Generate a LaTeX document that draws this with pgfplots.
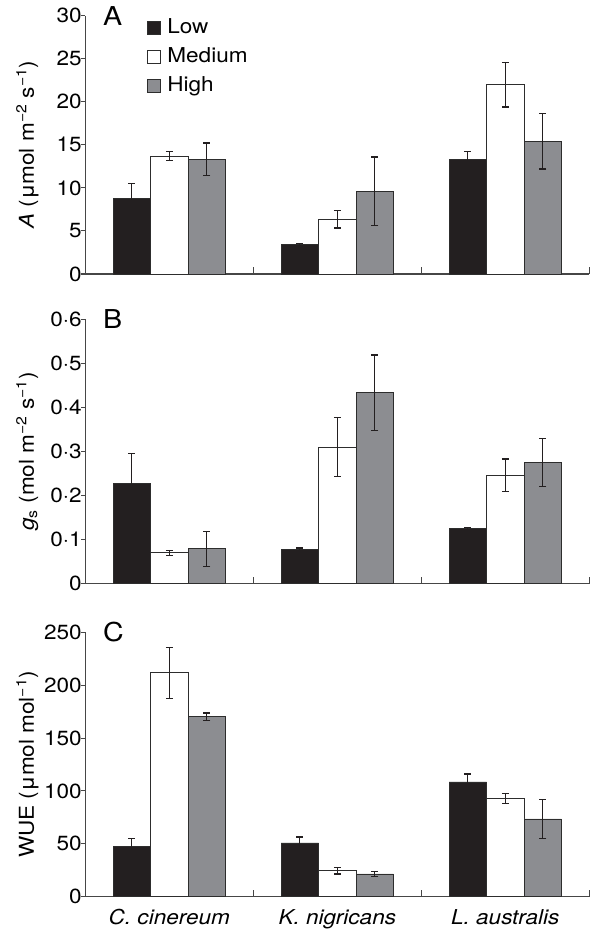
\documentclass[border=0pt]{standalone}
\usepackage{fontspec}
\setmainfont{TeX Gyre Heros}[FakeStretch=1.1]
\usepackage{pgfplots}
\pgfplotsset{compat=1.18}
\definecolor{barblack}{RGB}{35,31,32}
\definecolor{bargray}{RGB}{140,141,145}
\definecolor{edgecol}{RGB}{45,45,45}
\definecolor{axiscol}{RGB}{70,70,70}
\definecolor{errcol}{RGB}{35,31,32}
\newcommand{\bigf}{\fontsize{20.5}{24}\selectfont}
\newcommand{\legf}{\fontsize{20.5}{24}\selectfont}
\newcommand{\letf}{\fontsize{26}{30}\selectfont}
\pgfplotsset{
  panel/.style={
    scale only axis, width=504pt,
    xmin=-0.5, xmax=2.5, ymin=0,
    axis x line*=bottom, axis y line*=left,
    axis line style={-, draw=axiscol, line width=1.1pt},
    xtick={0,1,2}, minor xtick={0.5,1.5,2.5},
    every major x tick/.append style={draw=none},
    every minor x tick/.append style={draw=axiscol, line width=1.1pt},
    minor tick length=7pt,
    major tick length=4pt,
    tick align=inside,
    every major y tick/.append style={draw=axiscol, line width=1.1pt, xshift=-4pt},
    tick label style={font=\bigf},
    /pgf/number format/assume math mode=true,
    every axis y label/.style={at={(axis description cs:-0.115,0.5)}, rotate=90, anchor=center, font=\bigf},
    clip=false,
  },
  barbase/.style={ybar, bar width=0.223, bar shift=0pt, line width=0.9pt, draw=edgecol,
    /pgfplots/error bars/y dir=both, /pgfplots/error bars/y explicit,
    /pgfplots/error bars/error bar style={line width=1.3pt, draw=errcol, solid},
    /pgfplots/error bars/error mark options={rotate=90, line width=1.3pt, mark size=3.5pt, draw=errcol, solid}},
  lowbar/.style={barbase, fill=barblack},
  medbar/.style={barbase, fill=white},
  highbar/.style={barbase, fill=bargray},
}
\begin{document}
\begin{tikzpicture}
\path[use as bounding box] (0,0) rectangle (600pt,929pt);
% Panel A
\begin{axis}[panel, at={(85.3pt,655pt)}, anchor=south west, height=258.3pt,
  ymax=30, ytick={0,5,...,30}, xticklabels={,,},
  ylabel={\textit{A} (μmol m\textsuperscript{−2} s\textsuperscript{−1})},
  legend style={at={(axis description cs:0.123,0.99)}, anchor=north west, draw=none, fill=none,
    inner sep=0pt, row sep=10pt, font=\legf,
    nodes={inner sep=0pt, text height=15pt, text depth=4pt},
    /tikz/every odd column/.append style={column sep=6pt}},
  legend cell align=left]
\addlegendimage{legend image code/.code={\draw[fill=barblack, draw=edgecol, line width=0.9pt] (0pt,-6.5pt) rectangle (13pt,6.5pt);}}
\addlegendimage{legend image code/.code={\draw[fill=white, draw=edgecol, line width=0.9pt] (0pt,-6.5pt) rectangle (13pt,6.5pt);}}
\addlegendimage{legend image code/.code={\draw[fill=bargray, draw=edgecol, line width=0.9pt] (0pt,-6.5pt) rectangle (13pt,6.5pt);}}
\legend{Low,Medium,High}
\addplot[lowbar] coordinates {(-0.223,8.8) +- (0,1.7) (0.777,3.4) +- (0,0.15) (1.777,13.3) +- (0,0.9)};
\addplot[medbar] coordinates {(0,13.7) +- (0,0.55) (1,6.35) +- (0,1.0) (2,22.0) +- (0,2.6)};
\addplot[highbar] coordinates {(0.223,13.3) +- (0,1.9) (1.223,9.6) +- (0,4.0) (2.223,15.4) +- (0,3.2)};
\node[anchor=west, inner sep=0pt, font=\letf] at (axis description cs:0.035,1.0) {A};
\end{axis}
% Panel B
\begin{axis}[panel, at={(85.3pt,345.3pt)}, anchor=south west, height=264.4pt,
  ymax=0.6, ytick={0,0.1,0.2,0.3,0.4,0.5,0.6},
  yticklabels={0,0·1,0·2,0·3,0·4,0·5,0·6}, xticklabels={,,},
  ylabel={\textit{g}\textsubscript{s} (mol m\textsuperscript{−2} s\textsuperscript{−1})}]
\addplot[lowbar] coordinates {(-0.223,0.228) +- (0,0.067) (0.777,0.077) +- (0,0.004) (1.777,0.125) +- (0,0.003)};
\addplot[medbar] coordinates {(0,0.070) +- (0,0.006) (1,0.310) +- (0,0.067) (2,0.246) +- (0,0.037)};
\addplot[highbar] coordinates {(0.223,0.079) +- (0,0.040) (1.223,0.433) +- (0,0.086) (2.223,0.275) +- (0,0.055)};
\node[anchor=west, inner sep=0pt, font=\letf] at (axis description cs:0.035,1.0) {B};
\end{axis}
% Panel C
\begin{axis}[panel, at={(85.3pt,32.3pt)}, anchor=south west, height=264.4pt,
  ymax=250, ytick={0,50,...,250},
  xticklabels={C. cinereum, K. nigricans, L. australis},
  xticklabel style={font=\bigf\itshape, yshift=-9pt},
  ylabel={WUE (μmol mol\textsuperscript{−1})}]
\addplot[lowbar] coordinates {(-0.223,47.3) +- (0,8) (0.777,50.8) +- (0,5.7) (1.777,108.5) +- (0,7.5)};
\addplot[medbar] coordinates {(0,211.6) +- (0,24) (1,24.6) +- (0,3) (2,92.7) +- (0,4.6)};
\addplot[highbar] coordinates {(0.223,170) +- (0,3.6) (1.223,21.5) +- (0,2.3) (2.223,73.5) +- (0,18.6)};
\node[anchor=west, inner sep=0pt, font=\letf] at (axis description cs:0.035,1.0) {C};
\end{axis}
\end{tikzpicture}
\end{document}
